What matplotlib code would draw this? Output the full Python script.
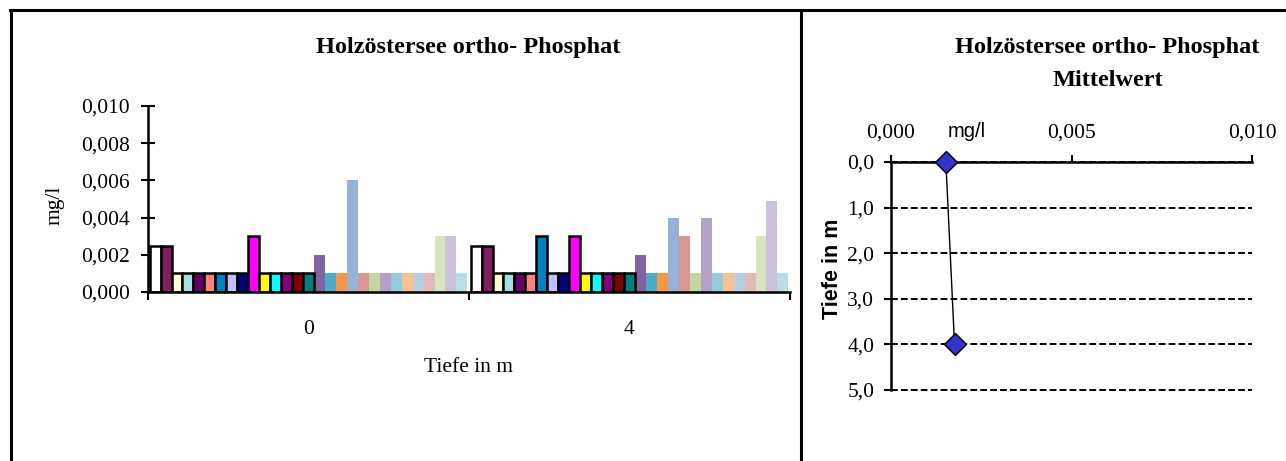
import matplotlib
matplotlib.use("Agg")
import matplotlib.pyplot as plt
from matplotlib.lines import Line2D
from matplotlib.ticker import FuncFormatter, FixedLocator
import numpy as np

# Data: ortho-Phosphat (mg/l) per Messung, two depths
depths = ["0", "4"]
series_colors = [
    "#FFFFFF", "#7F1F5F", "#FFFFCC", "#A0E0E0", "#660066", "#FF8080",
    "#0080C0", "#C0C0FF", "#000080", "#FF00FF", "#FFFF00", "#00FFFF",
    "#800080", "#800000", "#008080", "#8064A2", "#4BACC6", "#F79646",
    "#95B3D7", "#D99694", "#C3D69B", "#B2A1C7", "#93CDDD", "#FAC090",
    "#B9CDE5", "#E6B9B8", "#D7E4BD", "#CCC1DA", "#B7DEE8",
]
values_0m = [0.0025, 0.0025, 0.001, 0.001, 0.001, 0.001, 0.001, 0.001, 0.001,
             0.003, 0.001, 0.001, 0.001, 0.001, 0.001, 0.002, 0.001, 0.001,
             0.006, 0.001, 0.001, 0.001, 0.001, 0.001, 0.001, 0.001, 0.003,
             0.003, 0.001]
values_4m = [0.0025, 0.0025, 0.001, 0.001, 0.001, 0.001, 0.003, 0.001, 0.001,
             0.003, 0.001, 0.001, 0.001, 0.001, 0.001, 0.002, 0.001, 0.001,
             0.004, 0.003, 0.001, 0.004, 0.001, 0.001, 0.001, 0.001, 0.003,
             0.0049, 0.001]

mean_depth = [0.0, 4.0]
mean_value = [0.00152, 0.00176]

serif = "Liberation Serif"
sans = "Liberation Sans"
plt.rcParams["font.family"] = serif

W, H = 1286, 461
fig = plt.figure(figsize=(W / 100, H / 100), dpi=100)

def comma(fmt):
    return FuncFormatter(lambda v, _: format(v, fmt).replace(".", ","))

# ---------- left: bar chart ----------
ax = fig.add_axes([148 / W, 1 - 292 / H, (790 - 148) / W, (292 - 106) / H])
n = len(series_colors)
total = 0.99
w = total / n
x = np.arange(len(depths))
for i, col in enumerate(series_colors):
    off = -total / 2 + w * (i + 0.5)
    if i < 15:
        ax.bar(x + off, [values_0m[i], values_4m[i]], width=w, color=col,
               edgecolor="black", linewidth=1.8, zorder=3)
    else:
        ax.bar(x + off, [values_0m[i], values_4m[i]], width=w, color=col,
               linewidth=0, zorder=2)

ax.set_xlim(-0.5, 1.5)
ax.set_ylim(0, 0.010)
ax.set_yticks(np.arange(0, 0.0101, 0.002))
ax.yaxis.set_major_formatter(comma(".3f"))
ax.tick_params(axis="y", direction="inout", length=10, width=1.5, pad=8,
               labelsize=15.5)
ax.set_xticks(x)
ax.set_xticklabels(depths)
ax.tick_params(axis="x", length=0, pad=20, labelsize=15.5)
ax.xaxis.set_minor_locator(FixedLocator([-0.5, 0.5, 1.5]))
ax.tick_params(axis="x", which="minor", direction="out", length=6, width=1.5)
for s in ["top", "right"]:
    ax.spines[s].set_visible(False)
for s in ["left", "bottom"]:
    ax.spines[s].set_linewidth(1.8)
    ax.spines[s].set_zorder(5)

fig.text(468 / W, 1 - 47 / H, "Holzöstersee ortho- Phosphat", ha="center",
         va="center", fontsize=17.5, fontweight="bold")
fig.text(469 / W, 1 - 367 / H, "Tiefe in m", ha="center", va="center",
         fontsize=15.5)
fig.text(55 / W, 1 - 205 / H, "mg/l", ha="center", va="center", fontsize=15.5,
         rotation=90)

# ---------- right: mean profile ----------
ax2 = fig.add_axes([891 / W, 1 - 390 / H, (1252 - 891) / W, (390 - 162) / H])
ax2.plot(mean_value, mean_depth, color="black", lw=1, marker="D", ms=11.5,
         mfc="#3333CC", mec="black", mew=1, clip_on=False, zorder=6)
ax2.set_xlim(0, 0.010)
ax2.set_ylim(5, 0)
ax2.set_xticks([0, 0.005, 0.010])
ax2.xaxis.set_major_formatter(comma(".3f"))
ax2.xaxis.tick_top()
ax2.tick_params(axis="x", direction="out", length=5, width=1.5, pad=9,
                labelsize=15.5)
ax2.set_yticks(np.arange(0, 5.1, 1))
ax2.yaxis.set_major_formatter(comma(".1f"))
ax2.tick_params(axis="y", direction="out", length=5, width=1.5, pad=7,
                labelsize=15.5)
ax2.yaxis.grid(True, color="black", lw=1.4, dashes=(3.5, 1.6))
for gl in ax2.get_ygridlines():
    gl.set_clip_on(False)
for s in ["right", "bottom"]:
    ax2.spines[s].set_visible(False)
for s in ["left", "top"]:
    ax2.spines[s].set_linewidth(1.8)
    ax2.spines[s].set_zorder(5)

fig.text(1107 / W, 1 - 47 / H, "Holzöstersee ortho- Phosphat", ha="center",
         va="center", fontsize=17.5, fontweight="bold")
fig.text(1108 / W, 1 - 80 / H, "Mittelwert", ha="center", va="center",
         fontsize=17.5, fontweight="bold")
fig.text(967 / W, 1 - 131 / H, "mg/l", ha="center", va="center", fontsize=14.5,
         family=sans)
fig.text(832 / W, 1 - 269 / H, "Tiefe in m", ha="center", va="center",
         fontsize=15.5, family=sans, fontweight="bold", rotation=90)

# ---------- outer frame lines ----------
for xs, ys in [([10.5, 10.5], [10, H]), ([10, W], [10, 10]),
               ([801.5, 801.5], [10, H])]:
    fig.add_artist(Line2D([v / W for v in xs], [1 - v / H for v in ys],
                          color="black", lw=2.2))

fig.savefig("out.png", dpi=100)
